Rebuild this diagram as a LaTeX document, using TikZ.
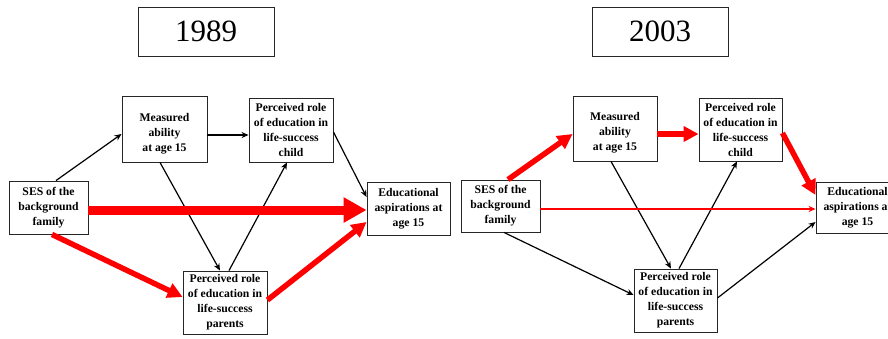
\documentclass[tikz,border=0pt]{standalone}
\usepackage{fontspec}
\setmainfont{Liberation Serif}
\usetikzlibrary{arrows.meta}
\definecolor{pathred}{RGB}{255,0,0}
\tikzset{
  box/.style={draw=black!85, line width=0.9pt, fill=white, inner sep=0pt, align=center,
    font=\bfseries\fontsize{11.7}{15}\selectfont},
  txt/.style={inner sep=0pt, align=center, font=\bfseries\fontsize{11.7}{15}\selectfont},
  yearbox/.style={draw=black!85, line width=0.9pt, inner sep=0pt,
    minimum width=136pt, minimum height=49pt, font=\fontsize{31}{36}\selectfont},
  thin/.style={draw=black, line width=1.2pt, -{Stealth[length=7pt,width=6pt]}},
  redthin/.style={draw=pathred, line width=1.6pt, -{Stealth[length=7pt,width=6pt]}},
  redmid/.style={draw=pathred, line width=5.5pt, -{Triangle[length=15pt,width=15pt]}},
  redbig/.style={draw=pathred, line width=9pt, -{Triangle[length=23pt,width=24pt]}},
}
\begin{document}
\begin{tikzpicture}[x=1pt,y=-1pt]
\useasboundingbox (0,0) rectangle (888,338);

% ---------- 1989 ----------
\node[yearbox] (T1) at (206,31.5) {1989};
\node[box, minimum width=85pt, minimum height=66pt,
  label={[txt,yshift=-5pt]center:Measured\\ability\\at age 15}] (M1) at (164.5,129) {};
\node[box, minimum width=84pt, minimum height=64pt] (C1) at (291,130)
  {Perceived role\\of education in\\life-success\\child};
\node[box, minimum width=79pt, minimum height=53pt] (S1) at (48.5,207.5)
  {SES of the\\background\\family};
\node[box, minimum width=83pt, minimum height=53pt] (E1) at (408.5,208.5)
  {Educational\\aspirations at\\age 15};
\node[box, minimum width=84pt, minimum height=63pt] (P1) at (225,302.5)
  {Perceived role\\of education in\\life-success\\parents};

\draw[thin] ([xshift=7.5pt]S1.north) -- ([yshift=-5pt]M1.west);
\draw[thin] ([yshift=-6pt]M1.east) -- ([yshift=-5pt]C1.west);
\draw[thin] ([yshift=-2pt]C1.east) -- ([yshift=11.5pt]E1.west);
\draw[thin] ([xshift=-4.5pt]M1.south) -- ([xshift=-5pt]P1.north);
\draw[thin] ([xshift=4pt]P1.north) -- ([xshift=-4pt]C1.south);
\draw[redbig] ([yshift=-2.5pt]S1.east) -- ([yshift=-1.5pt]E1.west);
\draw[redmid] ([xshift=3.5pt]S1.south) -- ([yshift=5.5pt]P1.west);
\draw[redmid] ([yshift=2.5pt]P1.east) -- ([yshift=-13.5pt]E1.west);

% ---------- 2003 ----------
\node[yearbox] (T2) at (660,31.5) {2003};
\node[box, minimum width=84pt, minimum height=65pt,
  label={[txt,yshift=-4.5pt]center:Measured\\ability\\at age 15}] (M2) at (615,128.5) {};
\node[box, minimum width=83pt, minimum height=63pt] (C2) at (740.5,129.5)
  {Perceived role\\of education in\\life-success\\child};
\node[box, minimum width=79pt, minimum height=52pt] (S2) at (500.5,206)
  {SES of the\\background\\family};
\node[box, minimum width=83pt, minimum height=51pt] (E2) at (857.5,207.5)
  {Educational\\aspirations at\\age 15};
\node[box, minimum width=83pt, minimum height=63pt] (P2) at (675.5,300.5)
  {Perceived role\\of education in\\life-success\\parents};

\draw[redmid] ([xshift=7.5pt]S2.north) -- ([yshift=-5.5pt]M2.west);
\draw[redmid] ([yshift=-5.5pt]M2.east) -- ([yshift=-4.5pt]C2.west);
\draw[redmid] ([yshift=-3.5pt]C2.east) -- ([yshift=12.5pt]E2.west);
\draw[thin] ([xshift=-4pt]M2.south) -- ([xshift=-4.5pt]P2.north);
\draw[thin] ([xshift=3.5pt]P2.north) -- ([xshift=-3.5pt]C2.south);
\draw[redthin] ([yshift=-3pt]S2.east) -- ([yshift=-1.5pt]E2.west);
\draw[thin] ([xshift=3.5pt]S2.south) -- ([yshift=5.5pt]P2.west);
\draw[thin] ([yshift=2.5pt]P2.east) -- ([yshift=-14.5pt]E2.west);
\end{tikzpicture}
\end{document}
